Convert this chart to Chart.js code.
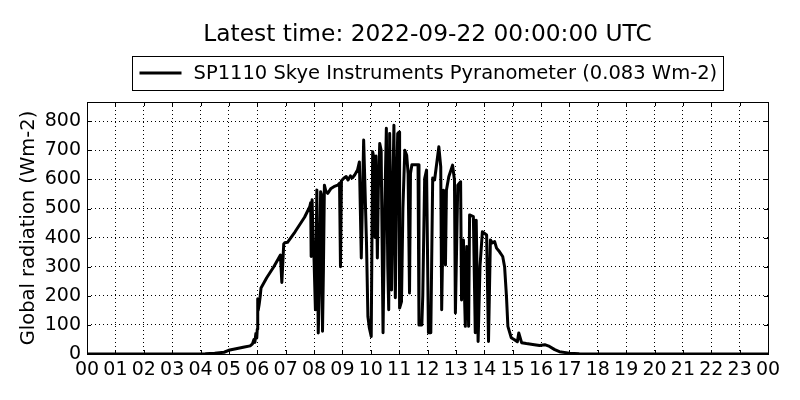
<!DOCTYPE html>
<html>
<head>
<meta charset="utf-8">
<title>Global radiation</title>
<script src="https://cdn.jsdelivr.net/npm/chart.js@4.4.0/dist/chart.umd.min.js"></script>
<style>
  html, body { margin: 0; padding: 0; background: #fff; }
  #wrap { width: 800px; height: 400px; }
</style>
</head>
<body>
<div id="wrap"><canvas id="radChart" width="800" height="400"></canvas></div>
<script>
// Texte
const titleText = 'Latest time: 2022-09-22 00:00:00 UTC';
const seriesLabel = 'SP1110 Skye Instruments Pyranometer (0.083 Wm-2)';
const yAxisLabel = 'Global radiation (Wm-2)';

// Zeit in Minuten nach Mitternacht (UTC)
const minutes = [
    0, 230, 250, 270, 290, 302, 315, 333, 345, 350,
    353, 355, 357, 359, 360, 361, 362, 364, 366, 368,
    380, 395, 409, 412, 416, 418, 424, 440, 460, 471,
    473, 474, 476, 478, 480, 483, 486, 489, 491, 494,
    496, 498, 500, 502, 505, 509, 516, 522, 530, 534,
    536, 538, 543, 548, 552, 557, 561, 566, 572, 576,
    580, 585, 588, 591, 594, 597, 601, 604, 607, 609,
    611, 614, 616, 619, 622, 626, 629, 633, 636, 638,
    640, 644, 646, 649, 652, 655, 657, 660, 661, 665,
    668, 672, 676, 679, 682,
    684, 687, 693, 700, 702, 708, 710, 714, 718, 722,
    727, 731, 735, 744, 748, 750, 754, 758, 760, 765,
    773, 777, 779, 784, 790, 792, 796, 798, 800, 803,
    807, 809, 817, 821, 823, 827, 831, 836, 845, 849,
    853, 857, 862, 866, 872, 879, 883, 887, 890, 897,
    904, 910, 913, 919, 929, 946, 957, 968, 978, 989,
    999, 1020, 1041, 1062, 1440
];

// Globalstrahlung (Wm-2)
const radiation = [
    0, 0, 1, 3, 6, 14, 18, 24, 28, 35,
    50, 40, 70, 55, 85, 190, 150, 170, 195, 227,
    262, 300, 340, 246, 378, 382, 384, 420, 470, 506,
    520, 335, 530, 400, 330, 152, 564, 72, 200, 558,
    546, 78, 300, 580, 560, 552, 569, 575, 580, 587,
    300, 595, 604, 610, 598, 612, 605, 615, 632, 660,
    330, 735, 560, 382, 129, 90, 60, 695, 672, 400,
    680, 330, 563, 723, 700, 73, 450, 776, 300, 152,
    758, 220, 500, 786, 193, 600, 758, 763, 158, 180,
    500, 700, 683, 620, 210,
    620, 650, 650, 650, 100, 100, 200, 603, 632, 73,
    73, 605, 598, 712, 643, 152, 563, 306, 563, 609,
    649, 598, 141, 580, 592, 186, 392, 215, 95, 369,
    95, 478, 472, 73, 460, 43, 300, 420, 409, 43,
    392, 382, 386, 364, 352, 335, 300, 197, 95, 56,
    49, 42, 72, 39, 36, 32, 29, 32, 26, 15,
    8, 3, 1, 0, 0
];

// Achsen
const yMax = 866;
const yTicks = [0, 100, 200, 300, 400, 500, 600, 700, 800];
const xTicksMinutes = [0, 60, 120, 180, 240, 300, 360, 420, 480, 540, 600, 660,
    720, 780, 840, 900, 960, 1020, 1080, 1140, 1200, 1260, 1320, 1380, 1440];

const fontFamily = '"DejaVu Sans", sans-serif';
const labelSize = 19.5;
const tickSize = 19;

// Titel + Legende mit Rahmen (zentriert ueber dem Plotbereich)
const headerPlugin = {
    id: 'header',
    afterDraw(chart) {
        const ctx = chart.ctx;
        const area = chart.chartArea;
        const cx = (area.left + area.right) / 2;
        ctx.save();
        ctx.fillStyle = '#000';
        ctx.textAlign = 'center';
        ctx.textBaseline = 'middle';
        ctx.font = '23.3px ' + fontFamily;
        ctx.fillText(titleText, cx, 35);

        ctx.font = labelSize + 'px ' + fontFamily;
        const tw = ctx.measureText(seriesLabel).width;
        const w = Math.round(7 + 42 + 12 + tw + 6);
        const x0 = Math.round(cx - w / 2) + 0.5;
        ctx.fillStyle = '#fff';
        ctx.fillRect(x0, 56.5, w, 34);
        ctx.strokeStyle = '#000';
        ctx.lineWidth = 1;
        ctx.strokeRect(x0, 56.5, w, 34);

        ctx.beginPath();
        ctx.lineWidth = 3;
        ctx.moveTo(x0 + 7, 73);
        ctx.lineTo(x0 + 49, 73);
        ctx.stroke();

        ctx.fillStyle = '#000';
        ctx.textAlign = 'left';
        ctx.fillText(seriesLabel, x0 + 61, 73.5);
        ctx.restore();
    }
};

// Rahmen und innenliegende Ticks wie matplotlib classic
const framePlugin = {
    id: 'frame',
    afterDatasetsDraw(chart) {
        const ctx = chart.ctx;
        const a = chart.chartArea;
        const xs = chart.scales.x;
        const ys = chart.scales.y;
        ctx.save();
        ctx.strokeStyle = '#000';
        ctx.lineWidth = 1;
        ctx.beginPath();
        xs.ticks.forEach(t => {
            const px = Math.round(xs.getPixelForValue(t.value)) + 0.5;
            ctx.moveTo(px, a.bottom); ctx.lineTo(px, a.bottom - 4);
            ctx.moveTo(px, a.top); ctx.lineTo(px, a.top + 4);
        });
        ys.ticks.forEach(t => {
            const py = Math.round(ys.getPixelForValue(t.value)) + 0.5;
            ctx.moveTo(a.left, py); ctx.lineTo(a.left + 4, py);
            ctx.moveTo(a.right, py); ctx.lineTo(a.right - 4, py);
        });
        ctx.stroke();
        ctx.strokeRect(Math.round(a.left) + 0.5, Math.round(a.top) + 0.5,
            Math.round(a.right - a.left), Math.round(a.bottom - a.top));
        ctx.restore();
    }
};

const bgPlugin = {
    id: 'bg',
    beforeDraw(chart) {
        const ctx = chart.ctx;
        ctx.save();
        ctx.fillStyle = '#fff';
        ctx.fillRect(0, 0, chart.width, chart.height);
        ctx.restore();
    }
};

const points = minutes.map((m, i) => ({ x: m, y: radiation[i] }));

const ctx = document.getElementById('radChart');
new Chart(ctx, {
    type: 'line',
    data: {
        datasets: [{
            label: seriesLabel,
            data: points,
            borderColor: '#000',
            backgroundColor: '#000',
            borderWidth: 3,
            borderJoinStyle: 'round',
            borderCapStyle: 'round',
            pointRadius: 0,
            tension: 0,
            fill: false
        }]
    },
    options: {
        responsive: false,
        animation: false,
        devicePixelRatio: 1,
        layout: {
            padding: { top: 102, right: 32, left: 0, bottom: 0 }
        },
        plugins: {
            legend: { display: false },
            title: { display: false },
            tooltip: { enabled: false }
        },
        scales: {
            x: {
                type: 'linear',
                min: 0,
                max: 1440,
                afterFit(scale) { scale.height = 46; },
                afterBuildTicks(scale) {
                    scale.ticks = xTicksMinutes.map(v => ({ value: v }));
                },
                border: { display: false, dash: [1, 3] },
                grid: {
                    color: '#000',
                    lineWidth: 1,
                    drawTicks: false
                },
                ticks: {
                    autoSkip: false,
                    maxRotation: 0,
                    padding: 5,
                    color: '#000',
                    font: { family: fontFamily, size: tickSize },
                    callback: v => String((v / 60) % 24).padStart(2, '0')
                }
            },
            y: {
                min: 0,
                max: yMax,
                afterFit(scale) { scale.width = 87; },
                afterBuildTicks(scale) {
                    scale.ticks = yTicks.map(v => ({ value: v }));
                },
                border: { display: false, dash: [1, 3] },
                grid: {
                    color: '#000',
                    lineWidth: 1,
                    drawTicks: false
                },
                ticks: {
                    autoSkip: false,
                    padding: 6,
                    color: '#000',
                    font: { family: fontFamily, size: tickSize }
                },
                title: {
                    display: true,
                    text: yAxisLabel,
                    color: '#000',
                    font: { family: fontFamily, size: labelSize },
                    padding: { top: 17, bottom: 0 }
                }
            }
        }
    },
    plugins: [bgPlugin, framePlugin, headerPlugin]
});
</script>
</body>
</html>
